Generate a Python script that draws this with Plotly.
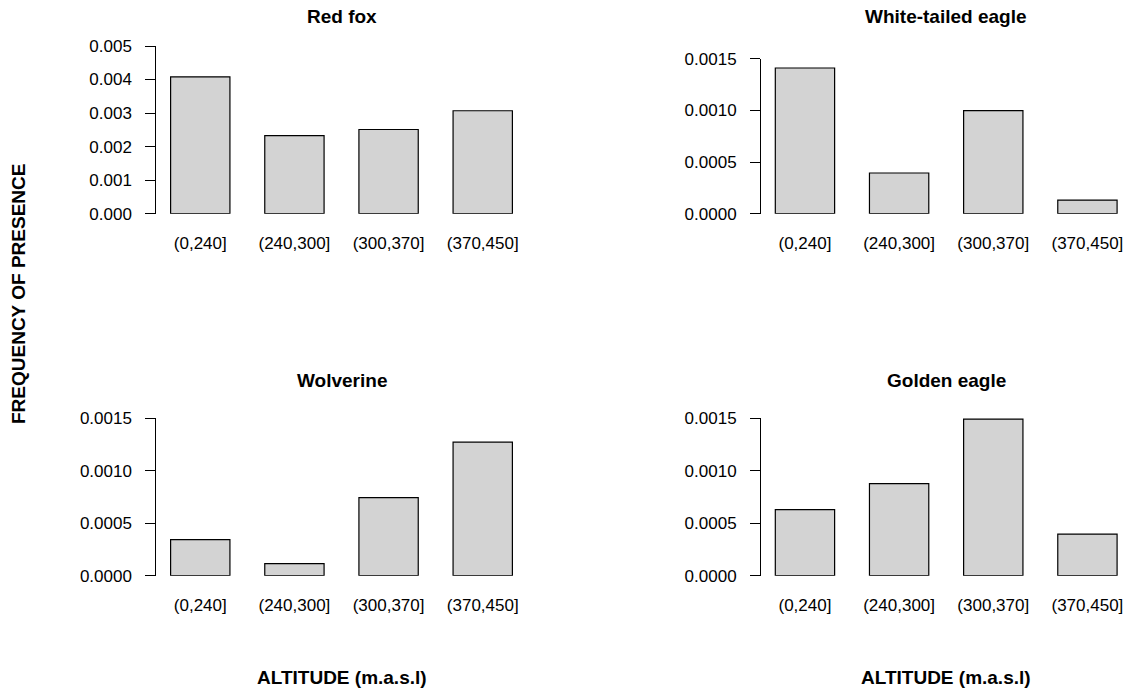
import plotly.graph_objects as go

# Altitude classes (m a.s.l.) shared by all panels
altitude_classes = ["(0,240]", "(240,300]", "(300,370]", "(370,450]"]

# Frequency of presence per altitude class
red_fox = [0.00408, 0.00233, 0.00251, 0.00307]
white_tailed_eagle = [0.00141, 0.000394, 0.000997, 0.000132]
wolverine = [0.000343, 0.000114, 0.000742, 0.00127]
golden_eagle = [0.000628, 0.000875, 0.00149, 0.000396]

# Y tick values and labels per panel
ticks_red_fox = [0, 0.001, 0.002, 0.003, 0.004, 0.005]
labels_red_fox = ["0.000", "0.001", "0.002", "0.003", "0.004", "0.005"]
ticks_small = [0, 0.0005, 0.0010, 0.0015]
labels_small = ["0.0000", "0.0005", "0.0010", "0.0015"]

W, H = 1132, 691
FONT = "Liberation Sans, Arial, Helvetica, sans-serif"

panels = [
    # title, values, yticks, ylabels, x-domain px, y-domain px (bottom, top)
    ("Red fox", red_fox, ticks_red_fox, labels_red_fox, (156.3, 526.7), (213.7, 46.0)),
    ("White-tailed eagle", white_tailed_eagle, ticks_small, labels_small, (761.0, 1131.4), (213.7, 58.7)),
    ("Wolverine", wolverine, ticks_small, labels_small, (156.3, 526.7), (575.7, 418.0)),
    ("Golden eagle", golden_eagle, ticks_small, labels_small, (761.0, 1131.4), (575.7, 418.0)),
]
title_y_px = [16, 16, 380, 380]

fig = go.Figure()
layout = {}
annotations = []
positions = list(range(len(altitude_classes)))

for i, (title, vals, yt, yl, (x0, x1), (yb, yt_px)) in enumerate(panels, start=1):
    xa = "x" if i == 1 else f"x{i}"
    ya = "y" if i == 1 else f"y{i}"
    fig.add_trace(go.Bar(
        x=positions, y=vals, width=0.63,
        marker=dict(color="#D3D3D3", line=dict(color="#000000", width=1.2)),
        xaxis=xa, yaxis=ya, showlegend=False, hoverinfo="y",
    ))
    layout[f"xaxis{'' if i == 1 else i}"] = dict(
        domain=[x0 / W, x1 / W], range=[-0.467, 3.467], anchor=ya,
        tickmode="array", tickvals=positions, ticktext=altitude_classes,
        showline=False, showgrid=False, zeroline=False, ticks="",
        ticklabelstandoff=17, tickfont=dict(family=FONT, size=17, color="#000"),
        automargin=False, fixedrange=True,
    )
    layout[f"yaxis{'' if i == 1 else i}"] = dict(
        domain=[1 - yb / H, 1 - yt_px / H], range=[0, yt[-1]], anchor=xa,
        tickmode="array", tickvals=yt, ticktext=yl,
        showline=True, linecolor="#000", linewidth=1,
        ticks="outside", ticklen=10, tickwidth=1, tickcolor="#000",
        showgrid=False, zeroline=False, ticklabelstandoff=10,
        tickfont=dict(family=FONT, size=17, color="#000"),
        automargin=False, fixedrange=True,
    )
    annotations.append(dict(
        text=f"<b>{title}</b>", x=(x0 + x1) / 2 / W, y=1 - title_y_px[i - 1] / H,
        xref="paper", yref="paper", xanchor="center", yanchor="middle",
        showarrow=False, font=dict(family=FONT, size=19, color="#000"),
    ))

# Shared axis titles
annotations.append(dict(
    text="<b>FREQUENCY OF PRESENCE</b>", x=19 / W, y=1 - 294 / H,
    xref="paper", yref="paper", xanchor="center", yanchor="middle",
    textangle=-90, showarrow=False, font=dict(family=FONT, size=19, color="#000"),
))
for xc in [(156.3 + 526.7) / 2, (761.0 + 1131.4) / 2]:
    annotations.append(dict(
        text="<b>ALTITUDE (m.a.s.l)</b>", x=xc / W, y=1 - 677 / H,
        xref="paper", yref="paper", xanchor="center", yanchor="middle",
        showarrow=False, font=dict(family=FONT, size=19, color="#000"),
    ))

fig.update_layout(
    width=W, height=H, margin=dict(l=0, r=0, t=0, b=0, pad=0, autoexpand=False),
    paper_bgcolor="white", plot_bgcolor="white",
    annotations=annotations, bargap=0.37, **layout,
)

fig.write_html("out.html", config={"displayModeBar": False})
